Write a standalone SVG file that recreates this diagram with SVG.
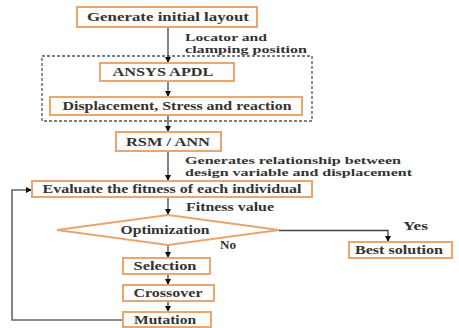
<svg xmlns="http://www.w3.org/2000/svg" width="459" height="328" viewBox="0 0 459 328">
<defs>
<style>
.box{fill:#fffdfb;stroke:#e9a66e;stroke-width:2}
.t{font-family:"Liberation Serif","Times New Roman",serif;font-weight:bold;font-size:12px;fill:#333}
.a{font-size:10.5px}
.c{text-anchor:middle}
.ln{fill:none;stroke:#444;stroke-width:1.3}
.fb{fill:none;stroke:#666;stroke-width:1.6}
.dash{fill:none;stroke:#555;stroke-width:1.3;stroke-dasharray:3 2}
</style>
<marker id="ah" markerUnits="userSpaceOnUse" markerWidth="6" markerHeight="6" refX="6" refY="3" orient="auto">
<path d="M0,0 L6,3 L0,6 z" fill="#111"/>
</marker>
</defs>
<rect width="459" height="328" fill="#ffffff"/>
<rect id="group-boundary" class="dash" x="42" y="56" width="270" height="65"/>
<g id="connectors">
<path class="ln" d="M168,27 V63" marker-end="url(#ah)"/>
<path class="ln" d="M168,81 V97" marker-end="url(#ah)"/>
<path class="ln" d="M168,115 V132" marker-end="url(#ah)"/>
<path class="ln" d="M168,151 V181" marker-end="url(#ah)"/>
<path class="ln" d="M168,197 V215" marker-end="url(#ah)"/>
<path class="ln" d="M168,245 V258" marker-end="url(#ah)"/>
<path class="ln" d="M168,274 V285" marker-end="url(#ah)"/>
<path class="ln" d="M168,301 V312" marker-end="url(#ah)"/>
<path class="ln" d="M279,230.5 H388 V242" marker-end="url(#ah)"/>
<path class="fb" d="M123,320 H12 V190 H32" marker-end="url(#ah)"/>
<text class="t a" x="185" y="41" textLength="82" lengthAdjust="spacingAndGlyphs">Locator and</text>
<text class="t a" x="185" y="53" textLength="122" lengthAdjust="spacingAndGlyphs">clamping position</text>
<text class="t a" x="185" y="164" textLength="216" lengthAdjust="spacingAndGlyphs">Generates relationship between</text>
<text class="t a" x="185" y="176" textLength="227" lengthAdjust="spacingAndGlyphs">design variable and displacement</text>
<text class="t" x="186" y="211" textLength="88" lengthAdjust="spacingAndGlyphs">Fitness value</text>
<text class="t" x="220" y="249" textLength="16" lengthAdjust="spacingAndGlyphs">No</text>
<text class="t" x="403" y="230" textLength="25" lengthAdjust="spacingAndGlyphs">Yes</text>
</g>
<g id="generate">
<rect class="box" x="77" y="7" width="180" height="20"/>
<text class="t c" x="168" y="21" textLength="162" lengthAdjust="spacingAndGlyphs">Generate initial layout</text>
</g>
<g id="ansys">
<rect class="box" x="100" y="63" width="134" height="18"/>
<text class="t c" x="163" y="76" textLength="101" lengthAdjust="spacingAndGlyphs">ANSYS APDL</text>
</g>
<g id="displacement">
<rect class="box" x="50" y="97" width="252" height="18"/>
<text class="t c" x="177" y="110" textLength="229" lengthAdjust="spacingAndGlyphs">Displacement, Stress and reaction</text>
</g>
<g id="rsm">
<rect class="box" x="116" y="132" width="105" height="19"/>
<text class="t c" x="168" y="145.5" textLength="84" lengthAdjust="spacingAndGlyphs">RSM / ANN</text>
</g>
<g id="evaluate">
<rect class="box" x="32" y="181" width="280" height="16"/>
<text class="t c" x="172" y="193" textLength="259" lengthAdjust="spacingAndGlyphs">Evaluate the fitness of each individual</text>
</g>
<g id="optimization">
<polygon points="168,215 279,230 168,245 57,230" fill="#ffffff" stroke="#e9a66e" stroke-width="2"/>
<text class="t c" x="165" y="234" textLength="89" lengthAdjust="spacingAndGlyphs">Optimization</text>
</g>
<g id="best">
<rect class="box" x="349" y="242" width="103" height="16"/>
<text class="t c" x="399" y="254" textLength="88" lengthAdjust="spacingAndGlyphs">Best solution</text>
</g>
<g id="selection">
<rect class="box" x="123" y="258" width="87" height="16"/>
<text class="t c" x="165" y="270" textLength="63" lengthAdjust="spacingAndGlyphs">Selection</text>
</g>
<g id="crossover">
<rect class="box" x="123" y="285" width="91" height="16"/>
<text class="t c" x="168" y="297" textLength="69" lengthAdjust="spacingAndGlyphs">Crossover</text>
</g>
<g id="mutation">
<rect class="box" x="123" y="312" width="88" height="15"/>
<text class="t c" x="165" y="324" textLength="62" lengthAdjust="spacingAndGlyphs">Mutation</text>
</g>
</svg>
